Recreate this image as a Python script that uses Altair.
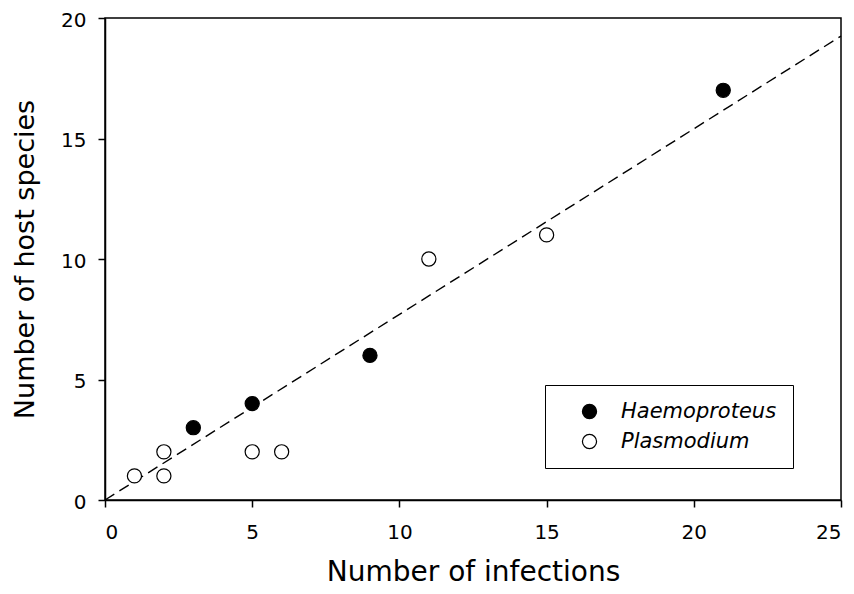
import altair as alt
import pandas as pd

# Data
haemo_x = [3, 5, 9, 21]
haemo_y = [3, 4, 6, 17]
plasmo_x = [1, 2, 2, 5, 6, 11, 15]
plasmo_y = [1, 2, 1, 2, 2, 10, 11]
fit_x = [0, 25]
fit_y = [0, 19.25]
groups = ["Haemoproteus", "Plasmodium"]

pts = pd.DataFrame({
    "x": haemo_x + plasmo_x,
    "y": haemo_y + plasmo_y,
    "group": [groups[0]] * len(haemo_x) + [groups[1]] * len(plasmo_x),
})
fit = pd.DataFrame({"x": fit_x, "y": fit_y})

FONT = "DejaVu Sans"

xscale = alt.Scale(domain=[0, 25], nice=False, zero=True)
yscale = alt.Scale(domain=[0, 20], nice=False, zero=True)

xaxis = alt.Axis(values=[0, 5, 10, 15, 20, 25], title="Number of infections",
                 titleFontSize=28, titleFont=FONT, titleFontWeight="normal",
                 titleBaseline="alphabetic",
                 labelFontSize=20, labelFont=FONT, labelPadding=15,
                 titleY=80, titleX=368, grid=False)
yaxis = alt.Axis(values=[0, 5, 10, 15, 20], title="Number of host species",
                 titleFontSize=27, titleFont=FONT, titleFontWeight="normal",
                 labelFontSize=20, labelFont=FONT, labelPadding=12, labelOffset=2,
                 titleX=-66, titleY=241, grid=False)

line = alt.Chart(fit).mark_line(color="black", strokeDash=[11, 6], strokeWidth=1.4).encode(
    x=alt.X("x:Q", scale=xscale, axis=xaxis),
    y=alt.Y("y:Q", scale=yscale, axis=yaxis),
)

points = alt.Chart(pts).mark_point(shape="circle", size=200, filled=False,
                                   stroke="black", strokeWidth=1.2, opacity=1).encode(
    x=alt.X("x:Q", scale=xscale),
    y=alt.Y("y:Q", scale=yscale),
    fill=alt.Fill("group:N",
                  scale=alt.Scale(domain=groups, range=["black", "white"]),
                  legend=alt.Legend(title=None, orient="none", legendX=440, legendY=367,
                                    strokeColor="black", padding=16,
                                    symbolType="circle", symbolSize=200,
                                    symbolStrokeColor="black", symbolStrokeWidth=1.2,
                                    symbolOffset=18, labelOffset=21,
                                    labelFont=FONT, labelFontSize=21, labelLimit=400,
                                    labelFontStyle="italic", labelColor="black",
                                    rowPadding=8)),
)

chart = (line + points).properties(
    width=736, height=482,
    autosize=alt.AutoSizeParams(type="none"),
    padding={"left": 97, "top": 10, "right": 5, "bottom": 86},
).configure_view(
    stroke="black", strokeWidth=1.5
).configure_axis(
    domainColor="black", domainWidth=1.5, tickColor="black", tickWidth=1.5,
    tickSize=7, labelColor="black", titleColor="black"
)

chart.save("out.html", embed_options={"renderer": "svg", "actions": False})
